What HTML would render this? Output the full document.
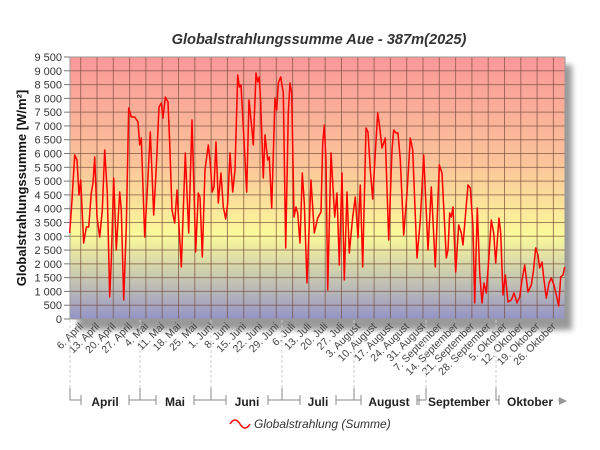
<!DOCTYPE html>
<html><head><meta charset="utf-8"><style>
html,body{margin:0;padding:0;background:#fff;}
svg{display:block;font-family:"Liberation Sans",sans-serif;}
</style></head><body>
<svg width="600" height="450" viewBox="0 0 600 450" xmlns="http://www.w3.org/2000/svg">
<defs>
<linearGradient id="bg" x1="0" y1="0" x2="0" y2="1">
<stop offset="0" stop-color="#fa9898"/>
<stop offset="0.4" stop-color="#fbc39a"/>
<stop offset="0.68" stop-color="#fbfa9a"/>
<stop offset="0.86" stop-color="#c2c2b4"/>
<stop offset="1" stop-color="#9494c6"/>
</linearGradient>
<filter id="sh" x="-10%" y="-10%" width="130%" height="130%"><feGaussianBlur stdDeviation="3"/></filter>
</defs>
<text x="319" y="44" text-anchor="middle" font-size="14.6" font-weight="bold" font-style="italic" fill="#333">Globalstrahlungssumme Aue - 387m(2025)</text>
<rect x="78" y="65" width="494" height="265" fill="#999" filter="url(#sh)"/>
<rect x="70" y="57" width="495" height="262" fill="url(#bg)"/>
<g stroke="#7a5040" stroke-opacity="0.7" stroke-width="1" id="grid"></g>
<rect x="70" y="57" width="495" height="262" fill="none" stroke="#999" stroke-width="1"/>
<g id="yl" font-size="11" fill="#333" text-anchor="end"></g>
<g id="xl" font-size="10.5" fill="#444"></g>
<text transform="translate(26,188) rotate(-90)" text-anchor="middle" font-size="13" font-weight="bold" fill="#111">Globalstrahlungssumme [W/m²]</text>
<polyline fill="none" stroke="#ff0000" stroke-width="1.5" stroke-linejoin="round" points="69.7,233 72,200 74.7,155 77,160 79,195 80.7,180 83.7,243 86.3,227 88.7,227 91.3,193 93,183 94.7,157 97,217 99.7,237 102.3,210 104.7,150 107.3,193 109.7,297 111.3,260 113.7,178 116.3,250 119.7,192 121.3,210 123.7,300 126.3,227 128.7,108 131.3,117 134.7,117 138,122 139.7,145 141.3,138 144.7,237 147.3,190 150.3,132 153.7,215 156.3,167 159,107 161.3,103 163,118 165.3,97 168,102 169.7,143 172,210 174.7,223 177,190 181.3,267 185.3,153 188.7,233 192,120 195.7,252 198.3,193 200,197 202.3,257 205,170 208.3,145 210,160 212.3,192 214,187 216,142 218.3,203 221,173 223.3,207 225.7,219 227.7,203 230,153 232.7,192 235,170 237.7,75 239.3,87 241,85 243.3,127 246.7,192 249,100 251.7,127 253.3,145 256,73 257.7,82 259.3,77 260.7,103 263.3,178 265,135 267.7,160 269.3,157 271.7,208 275,98 276.7,110 278.3,83 280.7,77 283.3,93 285.7,248 288.3,113 290,83 291.7,93 294,217 296,207 297.7,213 300,243 302.3,173 304.3,203 307,283 311,180 314.3,233 317.7,218 321,212 322.7,143 324.3,125 326,160 327.7,290 331,153 334.7,217 337,193 339.3,265 342,173 344.3,280 347,192 349.3,253 352.7,217 355.3,197 358,238 360.3,185 362.7,267 366,128 368,132 370.3,170 372.7,199 375.3,153 377.7,113 379.7,127 382,148 385.3,138 388.7,240 392,150 393.7,130 396,133 398,133 400.3,160 403.7,235 407,193 410.3,138 412.7,150 417,258 420.3,220 423.7,155 428,250 431.3,187 435.3,267 439.3,165 442,173 446.3,258 448,250 449.7,213 451.3,217 453,207 455.7,272 458.7,225 461.3,233 463,245 465.3,217 468,185 470.3,188 473,227 474.7,303 477.3,208 479.7,273 482,303 484,283 486.3,293 488.7,260 491.3,220 493.7,233 495.7,263 499,218 500.7,233 503,295 505.3,275 508,302 511.3,300 514,293 517,303 519.7,297 522,280 524.7,265 528,292 531.3,285 533.3,272 535.7,248 538,255 539.7,268 542,262 544,280 546.3,298 549,283 551.3,278 554,285 556.3,295 558.7,306 560.7,277 563,275 564.7,267"/>
<g id="mon" stroke="#888" fill="none"></g>
<g font-size="12" font-weight="bold" fill="#222" text-anchor="middle">
<text x="105" y="406">April</text><text x="175" y="406">Mai</text><text x="247" y="406">Juni</text><text x="318" y="406">Juli</text><text x="389" y="406">August</text><text x="459" y="406">September</text><text x="530" y="406">Oktober</text>
</g>
<polygon points="559,397 567,401 559,405" fill="#999"/>
<path d="M230,424 q5,-8 10,0 t10,0" fill="none" stroke="#f00" stroke-width="1.5"/>
<text x="254" y="428" font-size="12" font-style="italic" fill="#333">Globalstrahlung (Summe)</text>
<script>
var ns="http://www.w3.org/2000/svg";
function el(p,t,a,txt){var e=document.createElementNS(ns,t);for(var k in a)e.setAttribute(k,a[k]);if(txt)e.textContent=txt;document.getElementById(p).appendChild(e);}
for(var i=1;i<19;i++){var y=57+i*262/19;el("grid","line",{x1:70,x2:565,y1:y,y2:y});}
for(var k=0;k<30;k++){var x=80.7+k*16.3;el("grid","line",{x1:x,x2:x,y1:57,y2:319});}
for(var i=0;i<=19;i++){var v=i*500,y=319-i*262/19;var s=v>=1000?Math.floor(v/1000)+" "+String(v%1000).padStart(3,"0"):String(v);
el("yl","text",{x:62,y:y+4},s);el("yl","line",{x1:64,x2:70,y1:y,y2:y,stroke:"#777"});}
var L=["6. April","13. April","20. April","27. April","4. Mai","11. Mai","18. Mai","25. Mai","1. Juni","8. Juni","15. Juni","22. Juni","29. Juni","6. Juli","13. Juli","20. Juli","27. Juli","3. August","10. August","17. August","24. August","31. August","7. September","14. September","21. September","28. September","5. Oktober","12. Oktober","19. Oktober","26. Oktober"];
for(var k=0;k<30;k++){var x=80.7+k*16.3;el("xl","text",{x:0,y:0,"text-anchor":"end",transform:"translate("+(x+3)+",327) rotate(-45)"},L[k]);}
var B=[70,140,211,282,354,426,496,566],C=[105,175,247,318,389,459,530],W=[36,26,30,24,44,68,50];
for(var i=0;i<7;i++){var a=B[i],b=B[i+1],c=C[i],w=W[i]/2+6;
el("mon","path",{d:"M"+a+",388 L"+a+",400 L"+(c-w)+",400 M"+(c+w)+",400 L"+(b-(i==6?8:0))+",400"});
el("mon","line",{x1:c-w,x2:c-w,y1:395,y2:405});if(i<6)el("mon","line",{x1:c+w,x2:c+w,y1:395,y2:405});
}
for(var i=0;i<7;i++)el("mon","line",{x1:B[i],x2:B[i],y1:320,y2:388,"stroke-dasharray":"3,2",stroke:"#ccc"});
</script>
</svg>
</body></html>
